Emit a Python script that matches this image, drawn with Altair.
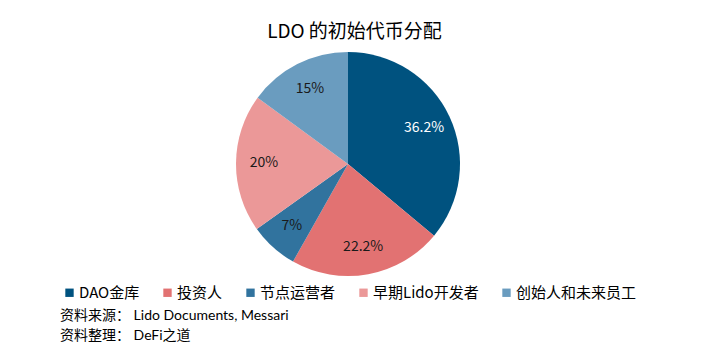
import altair as alt
import pandas as pd

categories = ["DAO金库", "投资人", "节点运营者", "早期Lido开发者", "创始人和未来员工"]
shares = [36.2, 22.2, 7, 20, 15]
pct_labels = ["36.2%", "22.2%", "7%", "20%", "15%"]
colors = ["#00527F", "#E27272", "#31739E", "#EB9898", "#6A9CBF"]
source_lines = ["资料来源： Lido Documents, Messari", "资料整理： DeFi之道"]

df = pd.DataFrame({
    "cat": categories,
    "share": shares,
    "label": pct_labels,
    "idx": list(range(len(categories))),
})
src = pd.DataFrame({"line": source_lines, "row": [0, 1]})

CJK = "Noto Sans CJK SC"
LAT = "Lato, Noto Sans CJK SC"

base = alt.Chart(df).encode(
    theta=alt.Theta("share:Q", stack=True),
    order=alt.Order("idx:Q"),
)

pie = base.mark_arc(outerRadius=112).encode(
    x=alt.value(340),
    y=alt.value(114),
    color=alt.Color(
        "cat:N",
        scale=alt.Scale(domain=categories, range=colors),
        sort=categories,
        legend=alt.Legend(
            title=None,
            orient="none",
            direction="horizontal",
            legendX=54,
            legendY=235,
            symbolType="square",
            symbolSize=70,
            symbolStrokeWidth=0,
            labelFont=CJK,
            labelFontSize=15,
            labelColor="#000000",
            labelOffset=2,
            columnPadding=20,
            padding=0,
            labelLimit=300,
        ),
    ),
)

text = base.mark_text(radius=84, font=CJK, fontSize=14).encode(
    x=alt.value(340),
    y=alt.value(114),
    text="label:N",
    color=alt.condition(
        alt.datum.cat == "DAO金库", alt.value("#FFFFFF"), alt.value("#1A1A1A")
    ),
)

source = alt.Chart(src).mark_text(
    align="left", baseline="middle", font=LAT, fontSize=14, color="#000000"
).encode(
    x=alt.value(52),
    y=alt.Y("row:Q", scale=alt.Scale(domain=[0, 1], range=[266, 286]), axis=None),
    text="line:N",
)

chart = alt.layer(pie, text, source).properties(
    width=693,
    height=297,
    title=alt.Title(
        "LDO 的初始代币分配",
        font=CJK,
        fontSize=19,
        fontWeight="normal",
        color="#000000",
        anchor="middle",
        offset=8,
    ),
    autosize=alt.AutoSizeParams(type="none"),
    padding={"left": 0, "top": 42, "right": 0, "bottom": 0},
).configure_view(stroke=None)

chart.save("out.html", embed_options={"renderer": "svg", "actions": False})
